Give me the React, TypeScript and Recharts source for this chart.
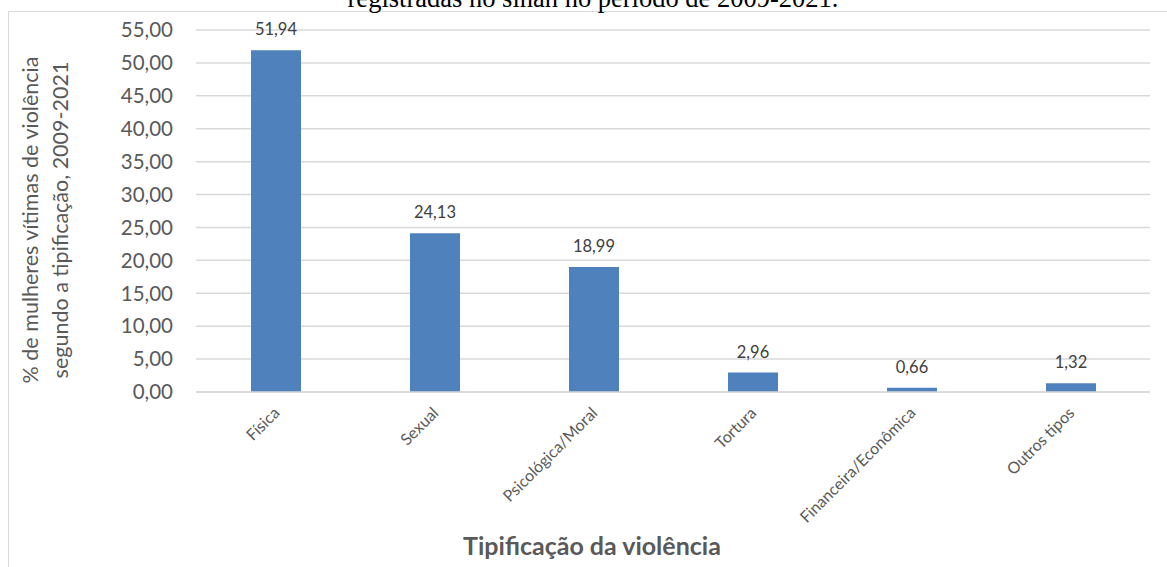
import { BarChart, Bar, XAxis, YAxis, CartesianGrid, LabelList } from "recharts";

const categories = [
  "Física",
  "Sexual",
  "Psicológica/Moral",
  "Tortura",
  "Financeira/Econômica",
  "Outros tipos",
];
const percentages = [51.94, 24.13, 18.99, 2.96, 0.66, 1.32];
const yTicks = [0, 5, 10, 15, 20, 25, 30, 35, 40, 45, 50, 55];

const titleText = "registradas no sinan no período de 2009-2021.";
const yLabelLines = ["% de mulheres vítimas de violência", "segundo a tipificação, 2009-2021"];
const xTitle = "Tipificação da violência";

const FONT = "Lato, 'Open Sans', sans-serif";
const GREY = "#595959";

const data = categories.map((name, i) => ({ name, value: percentages[i] }));

const fmt = (v: number) => v.toFixed(2).replace(".", ",");

// rotated category labels, ending just right of the bar centre
const AngledTick = ({ x, y, payload }: any) => (
  <g transform={`translate(${x + 5},${y + 22})`}>
    <text
      textAnchor="end"
      transform="rotate(-45)"
      fill={GREY}
      fontSize={16}
      fontFamily={FONT}
    >
      {payload.value}
    </text>
  </g>
);

export default function App() {
  return (
    <div
      style={{
        position: "absolute",
        left: 0,
        top: 0,
        width: 1167,
        height: 567,
        overflow: "hidden",
        background: "#fff",
      }}
    >
      <BarChart
        width={1167}
        height={567}
        data={data}
        margin={{ top: 30, right: 17, left: 0, bottom: 0 }}
        barCategoryGap={0}
      >
        <CartesianGrid vertical={false} stroke="#D9D9D9" strokeWidth={1.5} />
        <XAxis
          dataKey="name"
          height={175}
          tick={<AngledTick />}
          tickLine={false}
          tickSize={0}
          tickMargin={0}
          interval={0}
          axisLine={{ stroke: "#D9D9D9", strokeWidth: 1.5 }}
        />
        <YAxis
          width={196}
          domain={[0, 55]}
          ticks={yTicks}
          tickFormatter={fmt}
          tick={{ fontSize: 20.5, fill: GREY, fontFamily: FONT }}
          tickLine={false}
          axisLine={false}
          tickSize={0}
          tickMargin={23}
        />
        <Bar dataKey="value" fill="#4F81BD" barSize={50} isAnimationActive={false}>
          <LabelList
            dataKey="value"
            position="top"
            offset={15}
            formatter={(v: any) => fmt(Number(v))}
            style={{ fontSize: 16.5, fill: "#404040", fontFamily: FONT }}
          />
        </Bar>
      </BarChart>

      <svg
        width={1167}
        height={567}
        style={{ position: "absolute", left: 0, top: 0, pointerEvents: "none" }}
      >
        <rect x={8.5} y={11.5} width={1200} height={600} fill="none" stroke="#D9D9D9" />
        <text
          x={593}
          y={7}
          textAnchor="middle"
          fontSize={26.5}
          fontFamily="'Liberation Serif', 'Times New Roman', serif"
          fill="#000"
        >
          {titleText}
        </text>
        {yLabelLines.map((line, i) => (
          <text
            key={line}
            transform={`translate(${30 + i * 30},220) rotate(-90)`}
            textAnchor="middle"
            dominantBaseline="central"
            fontSize={21.5}
            fontFamily={FONT}
            fill={GREY}
          >
            {line}
          </text>
        ))}
        <text
          x={592}
          y={555}
          textAnchor="middle"
          fontSize={25}
          fontWeight="bold"
          fontFamily={FONT}
          fill={GREY}
        >
          {xTitle}
        </text>
      </svg>
    </div>
  );
}
